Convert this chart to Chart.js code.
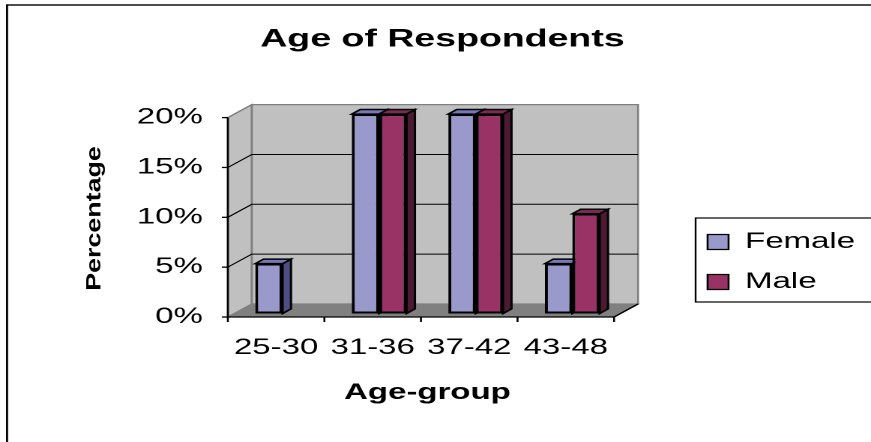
<!DOCTYPE html>
<html>
<head>
  <meta charset="UTF-8">
  <title>Age of Respondents</title>
  <script src="https://cdn.jsdelivr.net/npm/chart.js"></script>
  <style>
    body {
      margin: 0;
      background: #fff;
      overflow: hidden;
    }

    /* the original picture is stretched sideways, so draw narrow and stretch */
    #wrap {
      position: relative;
      width: 581px;
      height: 442px;
      transform: scaleX(1.4991);
      transform-origin: 0 0;
    }
  </style>
</head>
<body>
  <div id="wrap">
    <canvas id="ageChart"></canvas>
  </div>

  <script>
    const categories = ["25-30", "31-36", "37-42", "43-48"];
    const femaleShare = [5, 20, 20, 5];
    const maleShare = [0, 20, 20, 10];
    const yMax = 20;
    const yStep = 5;
    const chartTitle = "Age of Respondents";
    const xTitle = "Age-group";
    const yTitle = "Percentage";

    const FONT = "Arial, 'Liberation Sans', sans-serif";
    Chart.defaults.font.family = FONT;
    Chart.defaults.font.size = 22;
    Chart.defaults.color = "#000";

    // depth of the 3-D box (px before the sideways stretch)
    const DX = 16, DY = -13;
    const BAR_AT = 0.27, BAR_D = 0.35;
    const LEGEND_X = 454, LEGEND_Y = 213;

    const shades = {
      Female: { front: "#9999cc", side: "#4d4d80", top: "#7878b6" },
      Male: { front: "#993366", side: "#4d1a33", top: "#7a2952" }
    };

    function at(x, y, d) {
      return [x + (d - BAR_AT) * DX, y + (d - BAR_AT) * DY];
    }

    function shape(ctx, pts, fill, stroke, lw) {
      ctx.beginPath();
      pts.forEach((p, i) => i ? ctx.lineTo(p[0], p[1]) : ctx.moveTo(p[0], p[1]));
      if (fill) {
        ctx.closePath();
        ctx.fillStyle = fill;
        ctx.fill();
      }
      if (stroke) {
        ctx.strokeStyle = stroke;
        ctx.lineWidth = lw || 1;
        ctx.stroke();
      }
    }

    const box3d = {
      id: "box3d",
      afterLayout(chart) {
        const lg = chart.legend;
        lg.left = LEGEND_X;
        lg.right = lg.left + lg.width;
        lg.top = LEGEND_Y;
      },
      beforeDatasetsDraw(chart) {
        const { ctx, chartArea: a, scales: { x, y } } = chart;
        const L = a.left, R = a.right;
        const B = y.getPixelForValue(0), T = y.getPixelForValue(yMax);
        ctx.save();

        // floor, side wall, back wall
        shape(ctx, [at(L, B, 0), at(R, B, 0), at(R, B, 1), at(L, B, 1)], "#808080", "#808080", 1);
        shape(ctx, [at(L, B, 0), at(L, T, 0), at(L, T, 1), at(L, B, 1)], "#c0c0c0", "#808080", 1.3);
        shape(ctx, [at(L, B, 1), at(R, B, 1), at(R, T, 1), at(L, T, 1)], "#c0c0c0", "#808080", 1.3);

        // gridlines and value ticks
        y.ticks.forEach(t => {
          const py = y.getPixelForValue(t.value);
          if (t.value > 0 && t.value < yMax) {
            shape(ctx, [at(L, py, 0), at(L, py, 1), at(R, py, 1)], null, "#000", 1);
          }
          const p = at(L, py, 0);
          shape(ctx, [[p[0] - 4, p[1]], p], null, "#000", 1.3);
        });

        // front axes
        shape(ctx, [at(L, T, 0), at(L, B, 0), at(R, B, 0), at(R, B, 1)], null, "#000", 1.3);
        const n = categories.length;
        for (let i = 0; i <= n; i++) {
          const p = at(L + (R - L) * i / n, B, 0);
          shape(ctx, [p, [p[0], p[1] + 5]], null, "#000", 1.3);
        }

        // side and top faces of the bars
        const dx = BAR_D * DX, dy = BAR_D * DY;
        chart.data.datasets.forEach((ds, di) => {
          const c = shades[ds.label];
          chart.getDatasetMeta(di).data.forEach((bar, i) => {
            if (!ds.data[i]) return;
            const l = bar.x - bar.width / 2, r = bar.x + bar.width / 2;
            shape(ctx, [[r, bar.y], [r + dx, bar.y + dy], [r + dx, bar.base + dy], [r, bar.base]], c.side, "#000", 1.5);
            shape(ctx, [[l, bar.y], [l + dx, bar.y + dy], [r + dx, bar.y + dy], [r, bar.y]], c.top, "#000", 1.5);
          });
        });
        ctx.restore();
      },
      afterDraw(chart) {
        const ctx = chart.ctx;
        ctx.save();
        ctx.strokeStyle = "#000";

        // outer frame and legend frame
        ctx.lineWidth = 1.4;
        ctx.strokeRect(4.7, 5, 700, 500);
        ctx.lineWidth = 1.2;
        ctx.strokeRect(LEGEND_X + 10, LEGEND_Y + 5, 200, 84);

        // squeezed vertical axis title
        ctx.translate(63.3, 218.5);
        ctx.rotate(-Math.PI / 2);
        ctx.scale(1.34, 0.7);
        ctx.font = "bold 20px " + FONT;
        ctx.textAlign = "center";
        ctx.textBaseline = "middle";
        ctx.fillStyle = "#000";
        ctx.fillText(yTitle, 0, 0);
        ctx.restore();
      }
    };

    new Chart(document.getElementById("ageChart"), {
      type: "bar",
      data: {
        labels: categories,
        datasets: [
          {
            label: "Female",
            data: femaleShare,
            backgroundColor: shades.Female.front,
            borderColor: "#000",
            borderWidth: 2,
            borderSkipped: false
          },
          {
            label: "Male",
            data: maleShare,
            backgroundColor: shades.Male.front,
            borderColor: "#000",
            borderWidth: 2,
            borderSkipped: false
          }
        ]
      },
      options: {
        responsive: true,
        maintainAspectRatio: false,
        animation: false,
        devicePixelRatio: 2,
        categoryPercentage: 0.567,
        barPercentage: 1,
        layout: { padding: { left: 50, right: 40.7, top: 0, bottom: 0 } },
        scales: {
          x: {
            grid: { display: false },
            border: { display: false },
            ticks: { padding: 13, labelOffset: -4.3 },
            title: {
              display: true,
              text: xTitle,
              font: { weight: "bold", size: 22 },
              padding: { top: 0, bottom: 35.8 }
            },
            afterFit: s => { s.height = 128.5; }
          },
          y: {
            min: 0,
            max: yMax,
            grid: { display: false },
            border: { display: false },
            ticks: {
              stepSize: yStep,
              padding: 13,
              labelOffset: 3.5,
              callback: v => v + "%"
            },
            afterFit: s => { s.width = 106.3; }
          }
        },
        plugins: {
          title: {
            display: true,
            text: chartTitle,
            font: { weight: "bold", size: 25 },
            padding: { top: 24.6, bottom: 59.5 }
          },
          legend: {
            position: "right",
            fullSize: false,
            align: "start",
            maxWidth: 130,
            labels: {
              boxWidth: 14,
              boxHeight: 15,
              padding: 18,
              generateLabels: ch => Chart.defaults.plugins.legend.labels.generateLabels(ch)
                .map(l => ({ ...l, lineWidth: 1.3 }))
            }
          },
          tooltip: { enabled: false }
        }
      },
      plugins: [box3d]
    });
  </script>
</body>
</html>
